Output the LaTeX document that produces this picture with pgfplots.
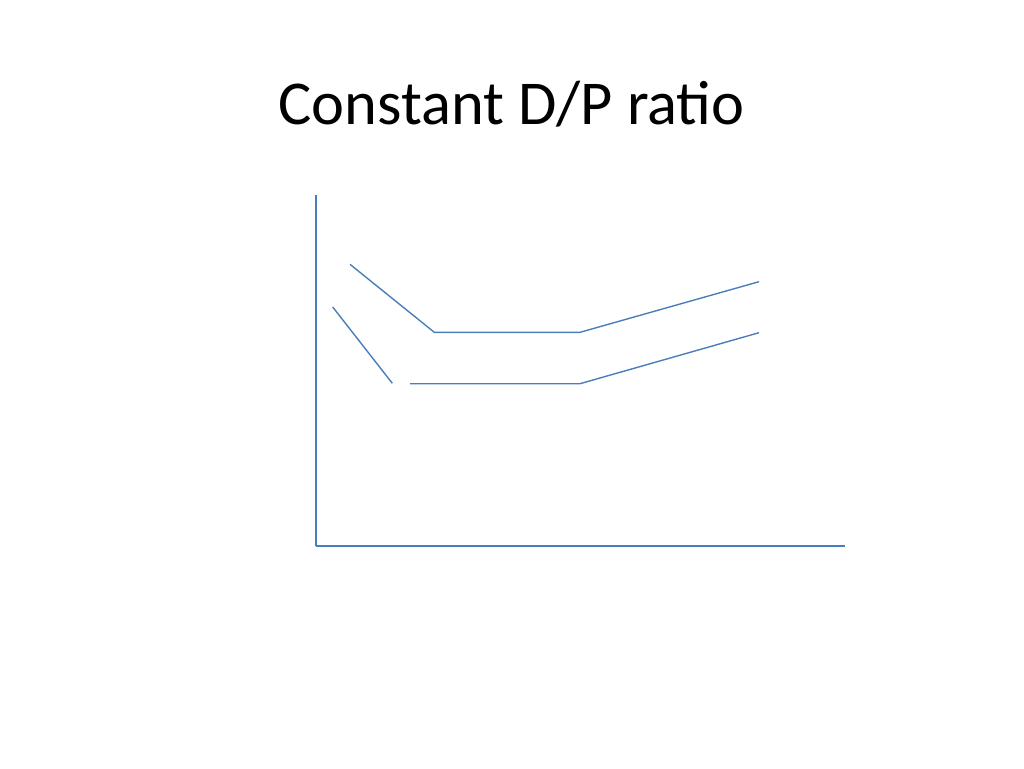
\documentclass[border=0pt]{standalone}
\usepackage{pgfplots}
\pgfplotsset{compat=1.18}
\usepackage{fontspec}
\setmainfont{Carlito}
\definecolor{lineblue}{HTML}{4A7EBB}
\begin{document}
\begin{tikzpicture}[x=0.5pt,y=0.5pt]
% slide canvas, 1024 x 768 px
\path (0,0) rectangle (1024,768);
\node[anchor=base, font=\fontsize{31.2pt}{36pt}\selectfont] at (511.5,644) {Constant D/P ratio};
\begin{axis}[
  at={(316*0.5pt,222*0.5pt)}, anchor=origin,
  scale only axis,
  width=264.5pt, height=175.5pt,
  xmin=0, xmax=529, ymin=0, ymax=351,
  axis lines*=left,
  axis line style={lineblue, line width=0.75pt},
  ticks=none,
  clip=false,
]
  % upper curve
  \addplot[lineblue, line width=0.7pt] coordinates {
    (34,281.7) (118.3,213.7) (264,213.7) (443,264.3)
  };
  % lower curve, drawn in two pieces with a gap
  \addplot[lineblue, line width=0.7pt] coordinates {
    (16.7,239) (76.3,162.7)
  };
  \addplot[lineblue, line width=0.7pt] coordinates {
    (94,162.3) (264,162.3) (443,213.3)
  };
\end{axis}
\end{tikzpicture}
\end{document}
